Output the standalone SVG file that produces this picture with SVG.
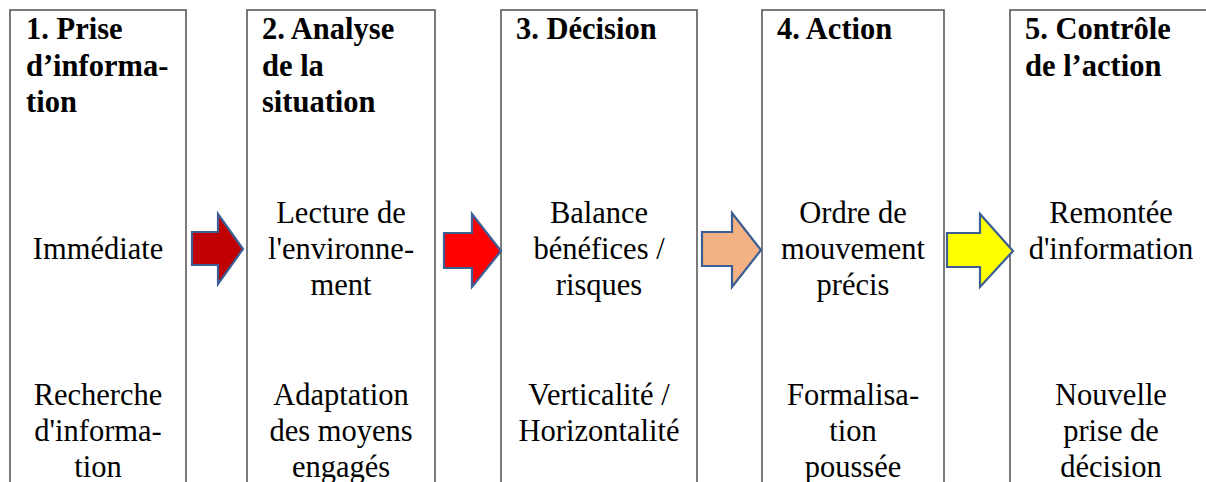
<svg xmlns="http://www.w3.org/2000/svg" width="1206" height="482" viewBox="0 0 1206 482">
<style>
.box{fill:#fff;stroke:#5a5a5a;stroke-width:1.6}
.h{font-weight:bold;font-size:30.5px;fill:#000}
.t{font-size:30.5px;fill:#000;text-anchor:middle}
.arr{stroke:#3B5F94;stroke-width:2.2;stroke-linejoin:miter}
</style>
<rect width="1206" height="482" fill="#fff"/>
<g font-family="Liberation Serif, Tinos, DejaVu Serif, serif">
<g id="node1">
<rect class="box" x="10" y="10" width="176" height="500"/>
<text class="h" x="26" y="39">1. Prise</text>
<text class="h" x="26" y="76">d’informa-</text>
<text class="h" x="26" y="112">tion</text>
<text class="t" x="98" y="259">Immédiate</text>
<text class="t" x="98" y="405">Recherche</text>
<text class="t" x="98" y="441">d'informa-</text>
<text class="t" x="98" y="477">tion</text>
</g>
<g id="node2">
<rect class="box" x="247" y="10" width="188" height="500"/>
<text class="h" x="262" y="39">2. Analyse</text>
<text class="h" x="262" y="76">de la</text>
<text class="h" x="262" y="112">situation</text>
<text class="t" x="341" y="223">Lecture de</text>
<text class="t" x="341" y="259">l'environne-</text>
<text class="t" x="341" y="295">ment</text>
<text class="t" x="341" y="405">Adaptation</text>
<text class="t" x="341" y="441">des moyens</text>
<text class="t" x="341" y="477">engagés</text>
</g>
<g id="node3">
<rect class="box" x="501" y="10" width="196" height="500"/>
<text class="h" x="516" y="39">3. Décision</text>
<text class="t" x="599" y="223">Balance</text>
<text class="t" x="599" y="259">bénéfices /</text>
<text class="t" x="599" y="295">risques</text>
<text class="t" x="599" y="405">Verticalité /</text>
<text class="t" x="599" y="441">Horizontalité</text>
</g>
<g id="node4">
<rect class="box" x="762" y="10" width="182" height="500"/>
<text class="h" x="777" y="39">4. Action</text>
<text class="t" x="853" y="223">Ordre de</text>
<text class="t" x="853" y="259">mouvement</text>
<text class="t" x="853" y="295">précis</text>
<text class="t" x="853" y="405">Formalisa-</text>
<text class="t" x="853" y="441">tion</text>
<text class="t" x="853" y="477">poussée</text>
</g>
<g id="node5">
<rect class="box" x="1010" y="10" width="202" height="500"/>
<text class="h" x="1025" y="39">5. Contrôle</text>
<text class="h" x="1025" y="76">de l’action</text>
<text class="t" x="1111" y="223">Remontée</text>
<text class="t" x="1111" y="259">d'information</text>
<text class="t" x="1111" y="405">Nouvelle</text>
<text class="t" x="1111" y="441">prise de</text>
<text class="t" x="1111" y="477">décision</text>
</g>
</g>
<g id="connectors">
<polygon class="arr" fill="#C00000" points="192,232 218,232 218,214 243,249 218,284 218,265 192,265"/>
<polygon class="arr" fill="#FF0000" points="444,233 472,233 472,214 501,251 472,287 472,268 444,268"/>
<polygon class="arr" fill="#F4B183" points="702,232 732,232 732,213 761,250 732,287 732,266 702,266"/>
<polygon class="arr" fill="#FFFF00" points="947,233 980,233 980,214 1013,251 980,287 980,267 947,267"/>
</g>
</svg>
